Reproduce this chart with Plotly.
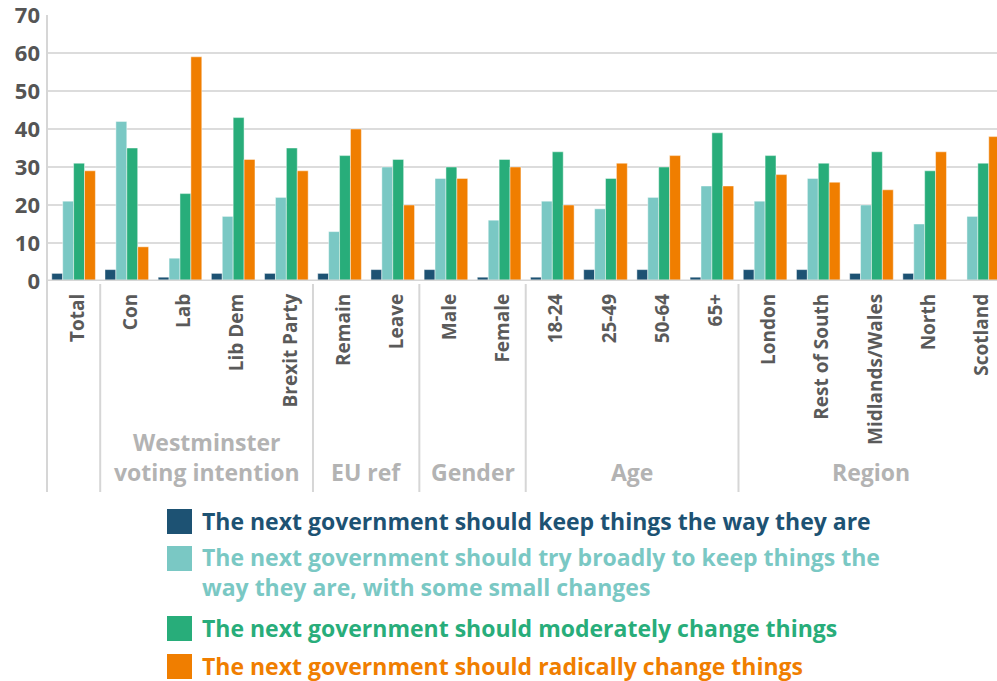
import plotly.graph_objects as go

# Categories along the x axis
categories = ["Total", "Con", "Lab", "Lib Dem", "Brexit Party", "Remain", "Leave",
              "Male", "Female", "18-24", "25-49", "50-64", "65+",
              "London", "Rest of South", "Midlands/Wales", "North", "Scotland"]

# Group headings: (label, first category index, last category index)
groups = [("Westminster<br>voting intention", 1, 4), ("EU ref", 5, 6),
          ("Gender", 7, 8), ("Age", 9, 12), ("Region", 13, 17)]

series_names = [
    "The next government should keep things the way they are",
    "The next government should try broadly to keep things the<br>way they are, with some small changes",
    "The next government should moderately change things",
    "The next government should radically change things",
]
keep_same = [2, 3, 1, 2, 2, 2, 3, 3, 1, 1, 3, 3, 1, 3, 3, 2, 2, 0]
small_changes = [21, 42, 6, 17, 22, 13, 30, 27, 16, 21, 19, 22, 25, 21, 27, 20, 15, 17]
moderate_change = [31, 35, 23, 43, 35, 33, 32, 30, 32, 34, 27, 30, 39, 33, 31, 34, 29, 31]
radical_change = [29, 9, 59, 32, 29, 40, 20, 27, 30, 20, 31, 33, 25, 28, 26, 24, 34, 38]

colors = ["#1d5273", "#7ac8c4", "#28ad7a", "#f07e00"]
y_ticks = [0, 10, 20, 30, 40, 50, 60, 70]

W, H = 997, 681
ML, MR, MT, MB = 47, 0, 15, 400
PW, PH = W - ML - MR, H - MT - MB


def px_x(px):
    return (px - ML) / PW


def px_y(py):
    return (H - MB - py) / PH


FONT = "Open Sans"
GRID = "#dcdcdc"

fig = go.Figure()
for name, vals, col in zip(series_names, [keep_same, small_changes, moderate_change, radical_change], colors):
    fig.add_trace(go.Bar(
        x=categories, y=vals, name=name, marker_color=col,
        marker_line=dict(color="rgba(255,255,255,0.45)", width=1),
        showlegend=False,
    ))

fig.update_layout(
    width=W, height=H,
    margin=dict(l=ML, r=MR, t=MT, b=MB),
    paper_bgcolor="white", plot_bgcolor="white",
    barmode="group", bargap=0.18, bargroupgap=0,
    font=dict(family=FONT),
)
fig.update_xaxes(
    type="category", range=[-0.5, 17.36],
    tickangle=-90, tickfont=dict(family=FONT, size=19, color="#5a5a5a", weight="bold"),
    ticks="", ticklabelstandoff=8, ticklabelshift=4,
    showgrid=False, showline=False, zeroline=False,
)
fig.update_yaxes(
    range=[0, 70], tickvals=y_ticks, ticktext=[str(v) for v in y_ticks],
    tickfont=dict(family=FONT, size=22, color="#555555", weight="bold"),
    showgrid=True, gridcolor=GRID, gridwidth=2, zeroline=False, showline=False,
    ticks="", ticklabelstandoff=6, ticklabeloverflow="allow",
)

shapes = []
# baseline and left axis line
shapes.append(dict(type="line", xref="paper", yref="y", x0=0, x1=1, y0=0, y1=0,
                   line=dict(color="#d6d6d6", width=3)))
shapes.append(dict(type="line", xref="paper", yref="paper", x0=0, x1=0, y0=1, y1=px_y(492),
                   line=dict(color="#d6d6d6", width=2)))
# group separators below the axis
for _, first, _last in groups:
    shapes.append(dict(type="line", xref="x", yref="paper", x0=first - 0.5, x1=first - 0.5,
                       y0=px_y(284), y1=px_y(492), line=dict(color="#d6d6d6", width=2)))

annotations = []
for label, first, last in groups:
    annotations.append(dict(
        x=(first + last) / 2, xref="x", y=px_y(490), yref="paper",
        text=label, showarrow=False, xanchor="center", yanchor="bottom",
        font=dict(family=FONT, size=23, color="#b3b3b3", weight="bold"),
        align="center",
    ))

# legend drawn as coloured squares with coloured text
legend_rows = [521, 572, 628, 666]
square_tops = [509, 546, 616, 654]
for name, col, cy, st in zip(series_names, colors, legend_rows, square_tops):
    shapes.append(dict(type="rect", xref="paper", yref="paper",
                       x0=px_x(167), x1=px_x(192), y0=px_y(st), y1=px_y(st + 25),
                       fillcolor=col, line=dict(width=0)))
    annotations.append(dict(
        x=px_x(200), y=px_y(cy), xref="paper", yref="paper", text=name,
        showarrow=False, xanchor="left", yanchor="middle", align="left",
        font=dict(family=FONT, size=23, color=col, weight="bold"),
    ))

fig.update_layout(shapes=shapes, annotations=annotations)
fig.write_html("out.html")
